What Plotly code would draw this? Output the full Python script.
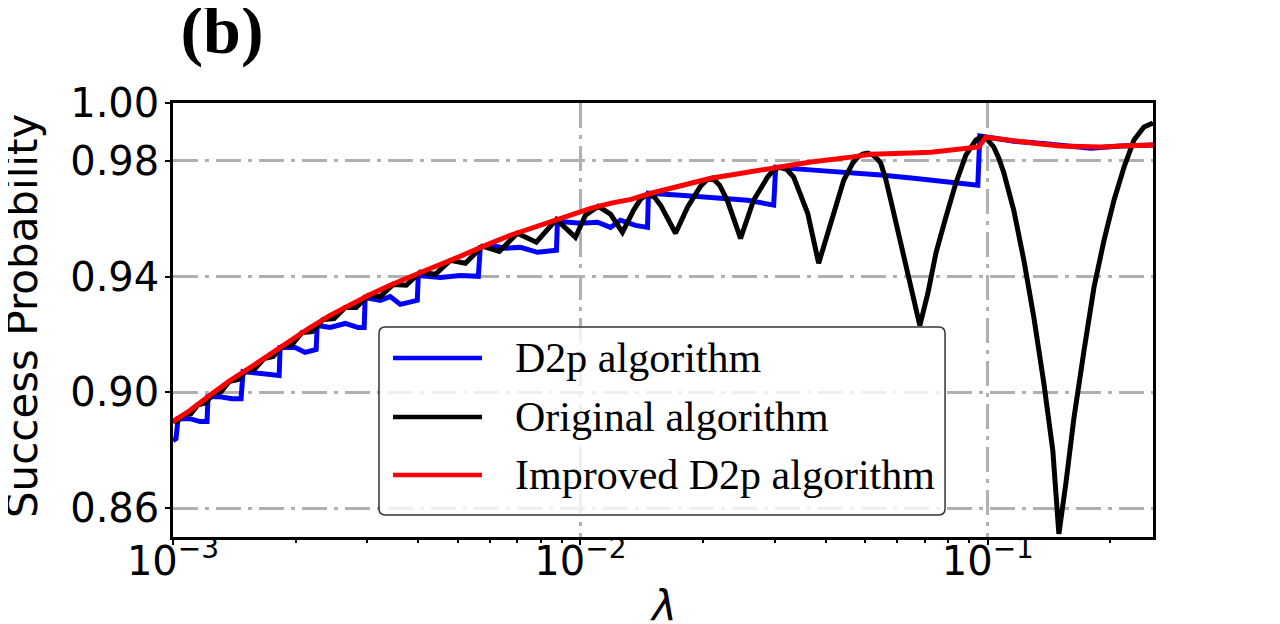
import plotly.graph_objects as go

# values
lam_d2p = [0.001, 0.001017, 0.001029, 0.001101, 0.001165, 0.001212, 0.001219, 0.001305, 0.001396, 0.001469,
           0.001486, 0.001591, 0.001731, 0.001822, 0.001832, 0.001994, 0.002111, 0.002246, 0.002259, 0.002431,
           0.002647, 0.002848, 0.002946, 0.002963, 0.003226, 0.003414, 0.003613, 0.003978, 0.004000, 0.004529,
           0.005072, 0.005616, 0.005679, 0.006013, 0.006545, 0.007125, 0.007845, 0.008733, 0.008782, 0.01,
           0.01101, 0.01185, 0.01254, 0.01365, 0.01461, 0.01469, 0.01761, 0.02123, 0.02573, 0.02981,
           0.03015, 0.03738, 0.04532, 0.05459, 0.06579, 0.0798, 0.0945, 0.09557, 0.1158, 0.1404,
           0.1791, 0.2123, 0.2543]
p_d2p = [0.8833, 0.8840, 0.8909, 0.8909, 0.8899, 0.8899, 0.8985, 0.8985, 0.8978, 0.8978,
         0.9072, 0.9068, 0.9061, 0.9058, 0.9155, 0.9155, 0.9138, 0.9148, 0.9231, 0.9224,
         0.9238, 0.9224, 0.9224, 0.9328, 0.9318, 0.9331, 0.9304, 0.9318, 0.9404, 0.9397,
         0.9404, 0.9401, 0.9501, 0.9508, 0.9498, 0.9501, 0.9484, 0.9491, 0.9591, 0.9584,
         0.9588, 0.9570, 0.9595, 0.9577, 0.9570, 0.9688, 0.9681, 0.9674, 0.9664, 0.9647,
         0.9778, 0.9768, 0.9761, 0.9751, 0.9740, 0.9726, 0.9716, 0.9886, 0.9868, 0.9858,
         0.9844, 0.9851, 0.9855]

lam_orig = [0.001, 0.001023, 0.001064, 0.001107, 0.001152, 0.001205, 0.001254, 0.001312, 0.001373, 0.001445,
            0.001512, 0.001591, 0.001673, 0.001761, 0.001853, 0.001961, 0.002075, 0.002196, 0.002336, 0.002486,
            0.002646, 0.002816, 0.003014, 0.003226, 0.003472, 0.003737, 0.004045, 0.004403, 0.004795, 0.00522,
            0.005744, 0.006324, 0.007002, 0.007796, 0.008733, 0.009721, 0.01029, 0.01107, 0.01185, 0.01268,
            0.0135, 0.01404, 0.01461, 0.0152, 0.01573, 0.01712, 0.01832, 0.01971, 0.02039, 0.0211,
            0.02196, 0.02297, 0.02472, 0.02661, 0.0288, 0.02981, 0.03083, 0.03208, 0.03337, 0.03613,
            0.03844, 0.04116, 0.04429, 0.04659, 0.04795, 0.0493, 0.05072, 0.0522, 0.05337, 0.05459,
            0.05616, 0.05778, 0.06114, 0.06471, 0.06809, 0.07124, 0.07454, 0.07887, 0.08346, 0.08831,
            0.0909, 0.09344, 0.09557, 0.09721, 0.1, 0.1034, 0.1064, 0.1095, 0.1158, 0.1226,
            0.1297, 0.1373, 0.1444, 0.1494, 0.1554, 0.1627, 0.1722, 0.1822, 0.1928, 0.204,
            0.2159, 0.2284, 0.2417, 0.2543]
p_orig = [0.8902, 0.8899, 0.8923, 0.8926, 0.8957, 0.8964, 0.8996, 0.9002, 0.9037, 0.9044,
          0.9075, 0.9082, 0.9117, 0.9124, 0.9158, 0.9165, 0.9207, 0.9210, 0.9252, 0.9255,
          0.9293, 0.9293, 0.9335, 0.9331, 0.9373, 0.9370, 0.9415, 0.9408, 0.9456, 0.9446,
          0.9505, 0.9487, 0.9550, 0.9519, 0.9598, 0.9536, 0.9612, 0.9643, 0.9616, 0.9553,
          0.9629, 0.9667, 0.9685, 0.9674, 0.9647, 0.9550, 0.9640, 0.9712, 0.9733, 0.9740,
          0.9716, 0.9661, 0.9532, 0.9664, 0.9744, 0.9768, 0.9778, 0.9771, 0.9744, 0.9619,
          0.9446, 0.9584, 0.9733, 0.9792, 0.9813, 0.9823, 0.9827, 0.9820, 0.9809, 0.9792,
          0.9737, 0.9664, 0.9515, 0.9363, 0.9231, 0.9342, 0.9480, 0.9605, 0.9723, 0.9820,
          0.9851, 0.9872, 0.9880, 0.9882, 0.9872, 0.9848, 0.9809, 0.9758, 0.9629, 0.9456,
          0.9259, 0.9030, 0.8798, 0.8511, 0.8684, 0.8912, 0.9144, 0.9363, 0.9525, 0.9664,
          0.9778, 0.9872, 0.9917, 0.9931]

lam_impr = [0.001, 0.0011, 0.00123, 0.00138, 0.00155, 0.00173, 0.00194, 0.00217, 0.00243, 0.00272,
            0.00305, 0.00341, 0.00382, 0.00428, 0.0048, 0.00537, 0.00601, 0.00673, 0.00754, 0.00844,
            0.00945, 0.0106, 0.0119, 0.0133, 0.0149, 0.0166, 0.0186, 0.0209, 0.0234, 0.0262,
            0.0293, 0.0328, 0.0368, 0.0412, 0.0461, 0.0516, 0.0578, 0.0647, 0.0725, 0.0812,
            0.0909, 0.095, 0.0989, 0.1076, 0.1205, 0.135, 0.1511, 0.1693, 0.1895, 0.2123,
            0.2543]
p_impr = [0.8899, 0.8937, 0.8989, 0.9041, 0.9086, 0.9131, 0.9179, 0.9224, 0.9266, 0.9304,
          0.9338, 0.9370, 0.9401, 0.9428, 0.9456, 0.9487, 0.9515, 0.9543, 0.9567, 0.9591,
          0.9616, 0.9636, 0.9654, 0.9667, 0.9688, 0.9706, 0.9723, 0.9740, 0.9751, 0.9761,
          0.9775, 0.9785, 0.9796, 0.9803, 0.9813, 0.9823, 0.9827, 0.9827, 0.9830, 0.9837,
          0.9844, 0.9848, 0.9882, 0.9875, 0.9865, 0.9858, 0.9851, 0.9848, 0.9848, 0.9851,
          0.9855]

series_names = ["D2p algorithm", "Original algorithm", "Improved D2p algorithm"]
series_colors = ["#0000ff", "#000000", "#ff0000"]

x_ticks = [0.001, 0.01, 0.1]
x_ticktext = ["10<sup>\u22123</sup>", "10<sup>\u22122</sup>", "10<sup>\u22121</sup>"]
x_minor = [0.002, 0.003, 0.004, 0.005, 0.006, 0.007, 0.008, 0.009,
           0.02, 0.03, 0.04, 0.05, 0.06, 0.07, 0.08, 0.09, 0.2]
y_ticks = [0.86, 0.90, 0.94, 0.98, 1.00]
y_ticktext = ["0.86", "0.90", "0.94", "0.98", "1.00"]

fig = go.Figure()
for xs, ys, name, col in zip([lam_d2p, lam_orig, lam_impr], [p_d2p, p_orig, p_impr],
                             series_names, series_colors):
    fig.add_trace(go.Scatter(x=xs, y=ys, mode="lines", name=name,
                             line=dict(color=col, width=5), showlegend=False))

# legend drawn by hand so it looks like the matplotlib one (long samples, rounded box)
bx0, bx1, by0, by1 = 0.2102, 0.7878, 0.0507, 0.4839
rx, ry = 0.0065, 0.0147
box_path = (f"M{bx0 + rx},{by1} L{bx1 - rx},{by1} Q{bx1},{by1} {bx1},{by1 - ry} "
            f"L{bx1},{by0 + ry} Q{bx1},{by0} {bx1 - rx},{by0} L{bx0 + rx},{by0} "
            f"Q{bx0},{by0} {bx0},{by0 + ry} L{bx0},{by1 - ry} Q{bx0},{by1} {bx0 + rx},{by1} Z")
fig.add_shape(type="path", path=box_path, xref="paper", yref="paper", layer="above",
              fillcolor="rgba(255,255,255,0.8)", line=dict(color="#333333", width=1.5))
legend_rows = [0.4124, 0.2765, 0.1429]
for row, name, col in zip(legend_rows, series_names, series_colors):
    fig.add_shape(type="line", xref="paper", yref="paper", layer="above",
                  x0=0.2245, x1=0.3153, y0=row, y1=row, line=dict(color=col, width=4.5))
    fig.add_annotation(text=name, xref="paper", yref="paper", x=0.3469, y=row,
                       xanchor="left", yanchor="middle", showarrow=False,
                       font=dict(family="Liberation Serif", size=42, color="black"))

# axis titles
fig.add_annotation(text="Success Probability", xref="paper", yref="paper", x=-0.1541, y=0.509,
                   xanchor="center", yanchor="middle", textangle=-90, showarrow=False,
                   font=dict(family="DejaVu Sans", size=42, color="black"))
fig.add_annotation(text="<i>\u03bb</i>", xref="paper", yref="paper", x=0.5, y=-0.0991,
                   xanchor="center", yanchor="top", showarrow=False,
                   font=dict(family="DejaVu Sans", size=42, color="black"))

tick_font = dict(family="DejaVu Sans", size=40, color="black")
grid_dash = "25px,7px,4px,7px"

# the page body adds an 8px offset, margins are shifted to compensate
fig.update_layout(
    width=1280, height=624,
    margin=dict(l=165, r=135, t=95, b=95),
    paper_bgcolor="white", plot_bgcolor="white",
    title=dict(text="<b>(b)</b>", font=dict(family="Liberation Serif", size=68, color="black"),
               x=214 / 1280, xanchor="center", xref="container",
               y=1 - 21 / 624, yanchor="middle", yref="container"),
    showlegend=False,
)

fig.update_xaxes(
    type="log", range=[-3, -0.5946],
    tickmode="array", tickvals=x_ticks, ticktext=x_ticktext,
    tickfont=tick_font, ticks="outside", ticklen=5, tickwidth=2, tickcolor="black",
    ticklabelstandoff=-18,
    showline=True, linecolor="black", linewidth=2.5, mirror=True,
    showgrid=True, gridcolor="#b0b0b0", griddash=grid_dash, gridwidth=3,
    minor=dict(tickvals=x_minor, ticks="outside", ticklen=3, tickwidth=1.5,
               tickcolor="black", showgrid=False),
    automargin=False, zeroline=False,
)
fig.update_yaxes(
    range=[0.85, 1.0],
    tickmode="array", tickvals=y_ticks, ticktext=y_ticktext,
    tickfont=tick_font, ticks="outside", ticklen=5, tickwidth=2, tickcolor="black",
    ticklabelstandoff=-2,
    showline=True, linecolor="black", linewidth=2.5, mirror=True,
    showgrid=True, gridcolor="#b0b0b0", griddash=grid_dash, gridwidth=3,
    automargin=False, zeroline=False,
)

fig.write_html("out.html")
